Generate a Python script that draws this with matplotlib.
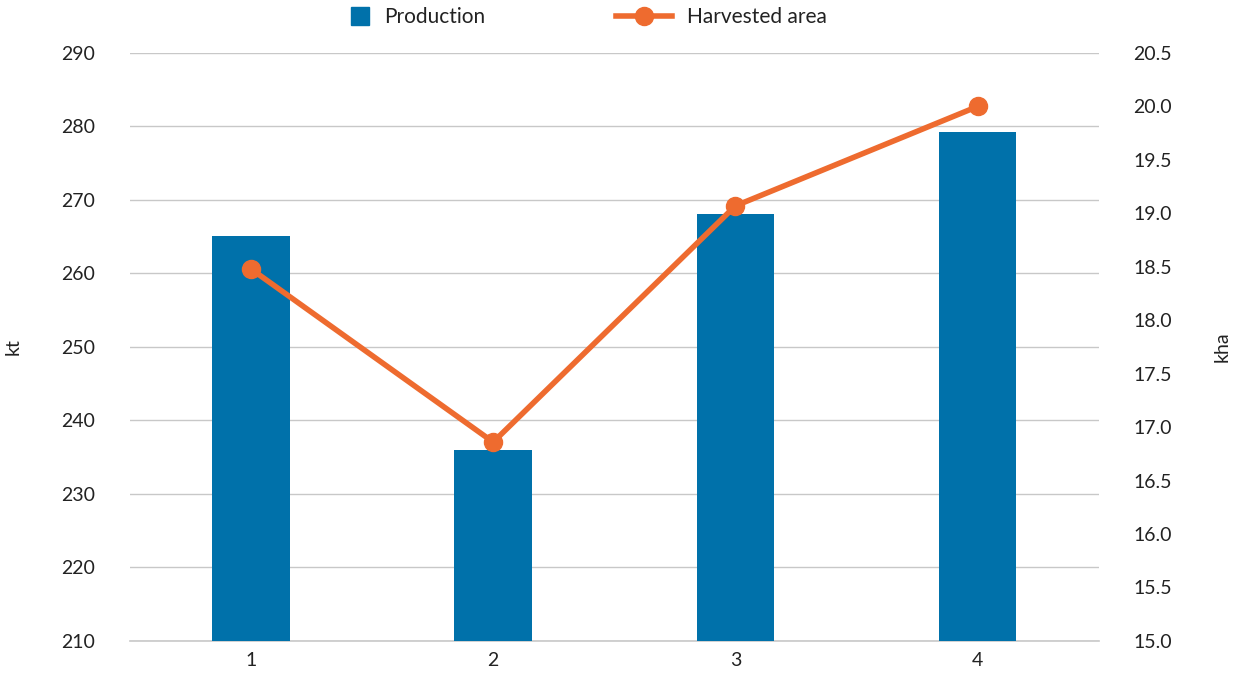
import matplotlib
matplotlib.use("Agg")
import matplotlib.pyplot as plt  # noqa: E402
from matplotlib.lines import Line2D  # noqa: E402
import numpy as np  # noqa: E402

categories = ["1", "2", "3", "4"]
production_kt = [265.1, 236.0, 268.1, 279.2]
harvested_kha = [18.48, 16.86, 19.07, 20.0]

BAR_COLOR = "#0071AA"
LINE_COLOR = "#EE6B2F"
GRID_COLOR = "#C8C8C8"
TEXT_COLOR = "#222222"

plt.rcParams["font.family"] = ["Lato", "DejaVu Sans"]

fig = plt.figure(figsize=(12.36, 6.84), dpi=100)
ax = fig.add_axes([0.105, 0.063, 0.784, 0.8595])
ax2 = ax.twinx()

x = np.arange(len(categories))
ax.bar(x, [p - 210 for p in production_kt], bottom=210, width=0.32,
       color=BAR_COLOR, zorder=2)
ax2.plot(x, harvested_kha, "-o", color=LINE_COLOR, lw=4, ms=13, zorder=3)

ax.set_xlim(-0.5, 3.5)
ax.set_ylim(210, 290)
ax.set_yticks(range(210, 291, 10))
ax2.set_ylim(15.0, 20.5)
ax2.set_yticks(np.arange(15.0, 20.51, 0.5))
ax2.set_yticklabels([f"{v:.1f}" for v in np.arange(15.0, 20.51, 0.5)])
ax.set_xticks(x)
ax.set_xticklabels(categories)

ax.grid(axis="y", color=GRID_COLOR, lw=1, zorder=0)
ax.axhline(210, color=GRID_COLOR, lw=1.2, zorder=1, clip_on=False)
ax.set_axisbelow(True)
for a in (ax, ax2):
    for s in a.spines.values():
        s.set_visible(False)
    a.tick_params(length=0, labelsize=14, colors=TEXT_COLOR)
ax.tick_params(axis="y", pad=25)
ax2.tick_params(axis="y", pad=25)
ax.tick_params(axis="x", pad=8)

ax.set_ylabel("kt", fontsize=14, color=TEXT_COLOR)
ax2.set_ylabel("kha", fontsize=14, color=TEXT_COLOR)
ax.yaxis.set_label_coords(-0.112, 0.5)
ax2.yaxis.set_label_coords(1.119, 0.5)

bar_handle = Line2D([], [], ls="none", marker="s", ms=13, color=BAR_COLOR)
line_handle = Line2D([], [], ls="-", lw=4, marker="o", ms=13, color=LINE_COLOR)
common = dict(loc="upper left", frameon=False, fontsize=15, borderpad=0,
              borderaxespad=0, labelcolor=TEXT_COLOR, handletextpad=0.7)
fig.legend([bar_handle], ["Production"], bbox_to_anchor=(0.2835, 0.99),
           handlelength=0.9, **common)
fig.legend([line_handle], ["Harvested area"], bbox_to_anchor=(0.4985, 0.99),
           handlelength=2.7, **common)

fig.savefig("out.png", dpi=100)
